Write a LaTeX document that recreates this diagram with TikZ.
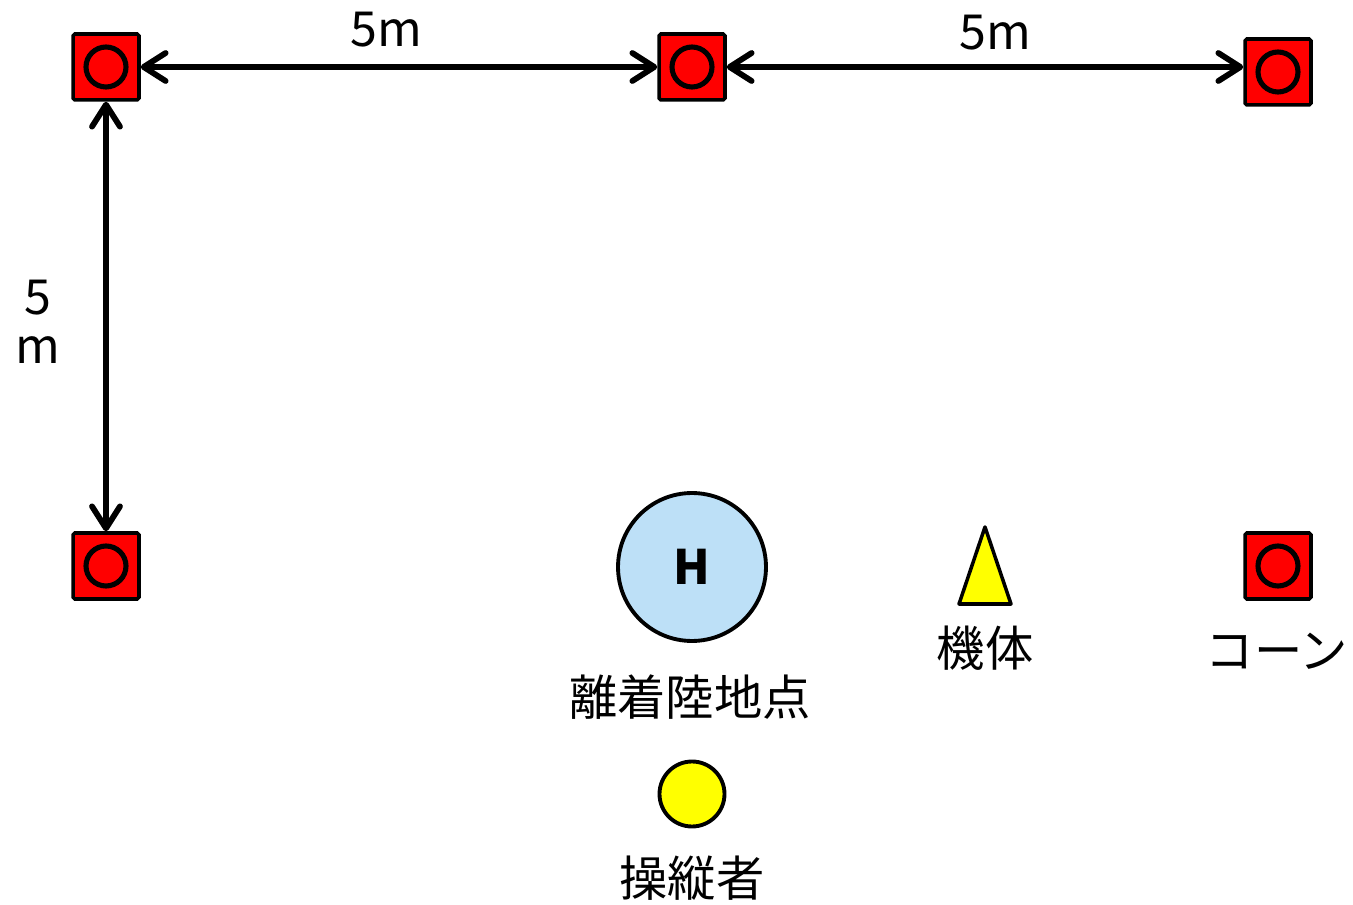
\documentclass[tikz,border=0pt]{standalone}
\usepackage{fontspec}
\setmainfont{Noto Sans CJK JP}
\usetikzlibrary{arrows.meta}
\definecolor{conered}{RGB}{255,0,0}
\definecolor{padblue}{RGB}{189,224,247}
\definecolor{markyellow}{RGB}{255,255,0}
\tikzset{
  cone/.style={rectangle, draw=black, fill=conered, line width=2pt,
    minimum size=1.32cm, inner sep=0pt, rounded corners=1pt,
    path picture={\draw[line width=2.9pt, rounded corners=0pt]
      (path picture bounding box.center) circle (0.40cm);}},
  dim/.style={line width=3.3pt, {Straight Barb[length=0.44cm,width=0.56cm,round]}-{Straight Barb[length=0.44cm,width=0.56cm,round]}},
  lbl/.style={font=\fontsize{27.5}{28}\selectfont, inner sep=0pt},
  pad/.style={circle, draw=black, fill=padblue, line width=2.2pt, minimum size=2.96cm, inner sep=0pt},
  pilot/.style={circle, draw=black, fill=markyellow, line width=2.2pt, minimum size=1.30cm, inner sep=0pt},
}
\begin{document}
\begin{tikzpicture}[x=0.02cm, y=-0.02cm]
  \useasboundingbox (0,0) rectangle (1353,905);
  % cones
  \node[cone] (c1) at (106,67) {};
  \node[cone] (c2) at (692,67) {};
  \node[cone] (c3) at (1278,72) {};
  \node[cone] (c4) at (106,566) {};
  \node[cone] (c5) at (1278,566) {};
  % distances
  \draw[dim] (c1) -- (c2);
  \draw[dim] (c2.east) -- (c2.east -| c3.west);
  \draw[dim] (c1) -- (c4);
  \node[lbl] (d1) at (386,30) {5m};
  \node[lbl] (d2) at (995,33) {5m};
  \node[lbl, align=center] (d3) at (38,322) {5\\m};
  % landing pad
  \node[pad, font=\fontsize{27}{28}\selectfont\bfseries] (h) at (692,567) {H};
  \node[lbl] (hl) at (690,697) {離着陸地点};
  % aircraft
  \coordinate (ap) at (985,527);
  \coordinate (bl) at (959,604);
  \coordinate (br) at (1011,604);
  \draw[fill=markyellow, line width=2pt, line join=round] (ap) -- (br) -- (bl) -- cycle;
  \node[lbl] (al) at (985,648) {機体};
  % cone legend
  \node[lbl] (cl) at (1277,651) {コーン};
  % pilot
  \node[pilot] (p) at (692,794) {};
  \node[lbl] (pl) at (692,878) {操縦者};
\end{tikzpicture}
\end{document}
